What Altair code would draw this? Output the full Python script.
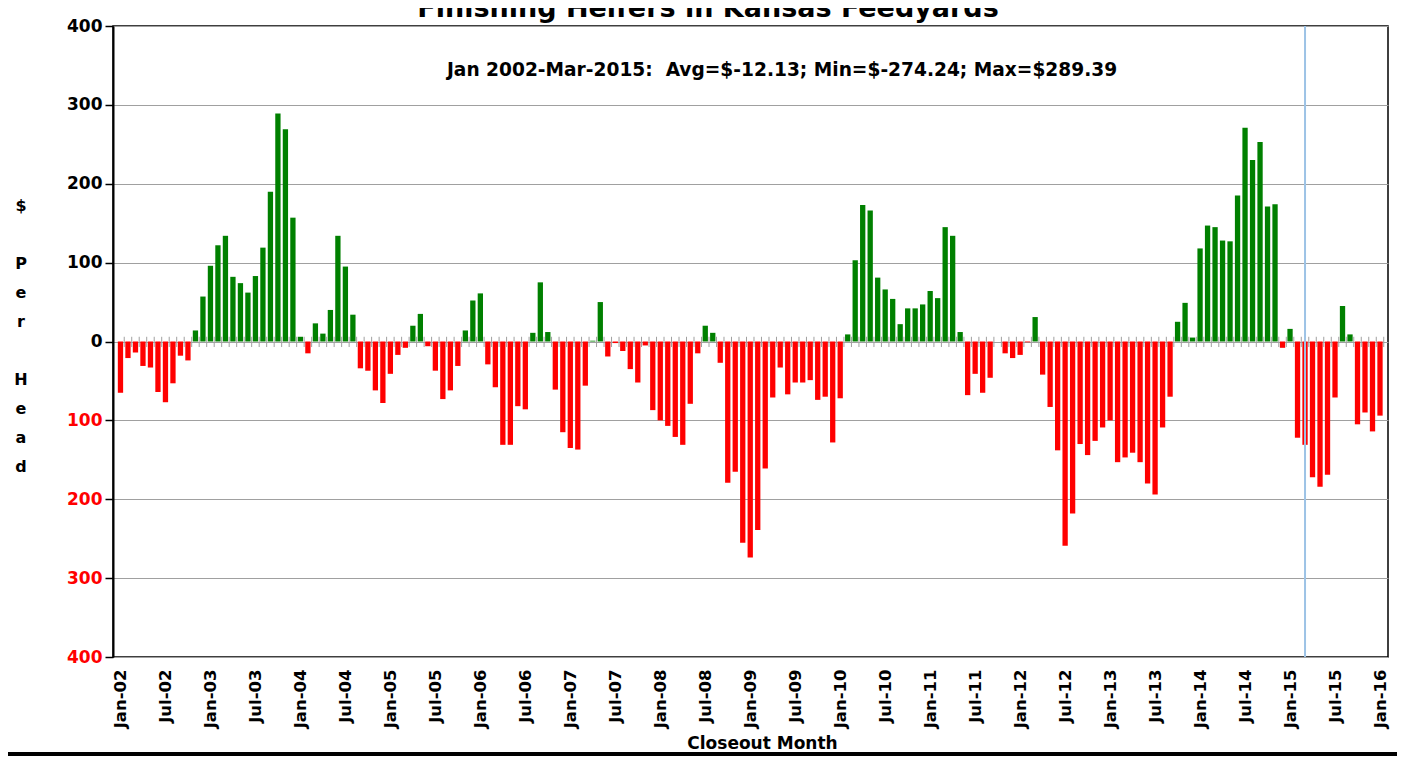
import json
import altair as alt
import pandas as pd

# Monthly closeout profit ($/head), Jan-02 .. Jan-16
VALUES = [
    -65, -21, -14, -31, -33, -64, -77, -53, -18, -24, 14, 57,        # 2002
    96, 122, 134, 82, 74, 62, 83, 119, 190, 289, 269, 157,           # 2003
    6, -15, 23, 10, 40, 134, 95, 34, -34, -37, -62, -78,             # 2004
    -41, -17, -8, 20, 35, -6, -37, -73, -62, -31, 14, 52,            # 2005
    61, -29, -58, -131, -131, -82, -86, 11, 75, 12, -61, -115,       # 2006
    -135, -137, -56, 1, 50, -19, -2, -12, -35, -52, -5, -87,         # 2007
    -100, -107, -121, -131, -79, -15, 20, 11, -27, -179, -165, -255, # 2008
    -274, -239, -161, -71, -33, -67, -52, -52, -49, -74, -70, -128,  # 2009
    -72, 9, 103, 173, 166, 81, 66, 54, 22, 42, 42, 47,               # 2010
    64, 55, 145, 134, 12, -68, -41, -65, -46, 0, -15, -21,           # 2011
    -17, -1, 31, -42, -83, -138, -259, -218, -130, -144, -126, -109, # 2012
    -100, -153, -147, -141, -153, -180, -194, -109, -70, 25, 49, 5,  # 2013
    118, 147, 145, 128, 127, 185, 271, 230, 253, 171, 174, -8,       # 2014
    16, -122, -131, -172, -184, -169, -71, 45, 9, -105, -90, -114,   # 2015
    -94,                                                             # 2016
]
MONTH_NAMES = ["Jan", "Feb", "Mar", "Apr", "May", "Jun",
               "Jul", "Aug", "Sep", "Oct", "Nov", "Dec"]
YEARS = list(range(2002, 2017))
MONTHS = [f"{m}-{y % 100:02d}" for y in YEARS for m in MONTH_NAMES][:len(VALUES)]
TICK_POS = [i for i, m in enumerate(MONTHS) if m[:3] in ("Jan", "Jul")]
TICK_LABELS = [MONTHS[i] for i in TICK_POS]
Y_TICKS = [-400, -300, -200, -100, 0, 100, 200, 300, 400]
CUTOFF = "Mar-15"
NBSP = "\u00a0"
TITLE = "Finishing Heifers in Kansas Feedyards"
NOTE = "Jan 2002-Mar-2015:" + NBSP + " Avg=$-12.13; Min=$-274.24; Max=$289.39"
Y_TITLE_WORDS = [["$"], ["P", "e", "r"], ["H", "e", "a", "d"]]
X_TITLE = "Closeout Month"

W, H = 1275, 631
FONT = "DejaVu Sans"
LINE_H = 29

df = pd.DataFrame({"i": list(range(len(VALUES))), "month": MONTHS, "profit": VALUES})
df["tick"] = df["i"] + 0.5

label_expr = json.dumps(TICK_LABELS) + "[round(datum.value / 6)]"

xscale = alt.Scale(domain=[-0.33, len(VALUES) - 1 + 0.4], nice=False, zero=False)
yscale = alt.Scale(domain=[-400, 400], nice=False)

x_axis = alt.Axis(
    values=TICK_POS, labelExpr=label_expr, labelAngle=270, labelFontSize=16.5,
    labelFont=FONT, labelFontWeight="bold", labelColor="black", labelPadding=12,
    ticks=False, domain=False, grid=False, labelOverlap=False, labelFlush=False,
    title=X_TITLE, titleFont=FONT, titleFontSize=17, titleFontWeight="bold",
    titleX=649, titleY=86, titleBaseline="middle", titleAlign="center",
)
y_axis = alt.Axis(
    values=Y_TICKS, labelExpr="abs(datum.value)", labelFont=FONT, labelFontSize=17,
    labelFontWeight="bold",
    labelColor={"condition": {"test": "datum.value < 0", "value": "#ff0000"}, "value": "black"},
    labelPadding=3, tickSize=8, tickColor="black", tickWidth=1.5,
    domainColor="black", domainWidth=2,
    grid=True, gridColor="#a0a0a0", gridWidth=1,
    title="",
)

base = alt.Chart(df)

bars = base.mark_bar(width=5.3, clip=True).encode(
    x=alt.X("i:Q", scale=xscale, axis=x_axis),
    y=alt.Y("profit:Q", scale=yscale, axis=y_axis),
    color=alt.condition(alt.datum.profit >= 0, alt.value("#008000"), alt.value("#ff0000")),
    tooltip=["month:N", "profit:Q"],
)

ticks = base.mark_rule(color="#a0a0a0", strokeWidth=1, clip=True).encode(
    x=alt.X("tick:Q", scale=xscale),
    y=alt.datum(6),
    y2=alt.datum(-7),
)

cut_df = pd.DataFrame({"i": [MONTHS.index(CUTOFF)]})
cutline = alt.Chart(cut_df).mark_rule(color="#9dc3e6", strokeWidth=2).encode(
    x=alt.X("i:Q", scale=xscale),
)

title_txt = alt.Chart(pd.DataFrame({"t": [TITLE]})).mark_text(
    font=FONT, fontSize=27, fontWeight="bold", color="black",
    align="center", baseline="alphabetic",
).encode(text="t:N", x=alt.value(595), y=alt.value(-9))

note_txt = alt.Chart(pd.DataFrame({"t": [NOTE]})).mark_text(
    font=FONT, fontSize=18.6, fontWeight="bold", color="black",
    align="center", baseline="middle",
).encode(text="t:N", x=alt.value(669), y=alt.value(44))

# vertical stacked y-axis title: "$", "Per", "Head" with one blank line between words
ytitle_layers = []
row = 0
for word in Y_TITLE_WORDS:
    ytitle_layers.append(
        alt.Chart(pd.DataFrame({"t": [0]})).mark_text(
            font=FONT, fontSize=16, fontWeight="bold", color="black",
            align="center", baseline="top", lineHeight=LINE_H,
            text=word if len(word) > 1 else word[0],
        ).encode(x=alt.value(-92), y=alt.value(172 + row * LINE_H))
    )
    row += len(word) + 1

bottom_line = alt.Chart(pd.DataFrame({"t": [0]})).mark_rule(color="black", strokeWidth=4).encode(
    x=alt.value(-105), x2=alt.value(W + 9), y=alt.value(H + 97),
)

chart = alt.layer(bars, ticks, cutline, title_txt, note_txt, *ytitle_layers, bottom_line).properties(
    width=W, height=H, autosize="none",
    padding={"left": 105, "top": 18, "right": 9, "bottom": 100},
    background="white",
).configure_view(stroke="black", strokeWidth=1.5)

chart.save("out.html", embed_options={"renderer": "svg", "actions": False})
